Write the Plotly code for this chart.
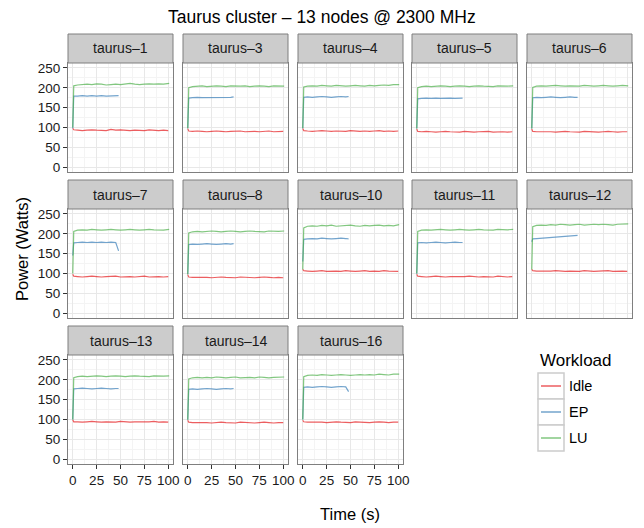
import plotly.graph_objects as go

W, H = 644, 528

NODES = ["taurus-1", "taurus-3", "taurus-4", "taurus-5", "taurus-6",
         "taurus-7", "taurus-8", "taurus-10", "taurus-11", "taurus-12",
         "taurus-13", "taurus-14", "taurus-16"]

T_IDLE = [0, 1, 5, 10, 15, 20, 25, 30, 35, 40, 45, 50, 55, 60, 65, 70, 75, 80, 85, 90, 95, 100]
T_LU = [0, 1, 5, 10, 15, 20, 25, 30, 35, 40, 45, 50, 55, 60, 65, 70, 75, 80, 85, 90, 95, 101]
T_EP = [0, 1, 5, 10, 15, 20, 25, 30, 35, 40, 45, 48]

IDLE = {
    "taurus-1":  [98, 94, 93, 92, 93, 94, 93, 93, 92, 95, 93, 94, 93, 92, 93, 93, 92, 94, 93, 92, 93, 92],
    "taurus-3":  [97, 91, 90, 91, 90, 89, 90, 91, 90, 89, 90, 90, 91, 89, 90, 90, 89, 90, 91, 89, 90, 90],
    "taurus-4":  [97, 92, 91, 90, 91, 92, 91, 90, 91, 91, 90, 92, 91, 90, 91, 90, 91, 92, 90, 91, 90, 91],
    "taurus-5":  [96, 90, 89, 90, 89, 88, 89, 90, 89, 89, 88, 90, 89, 88, 89, 89, 90, 88, 89, 89, 88, 89],
    "taurus-6":  [96, 90, 89, 89, 90, 89, 88, 89, 90, 89, 89, 88, 90, 89, 89, 88, 89, 90, 89, 88, 89, 89],
    "taurus-7":  [98, 93, 92, 91, 92, 93, 92, 91, 92, 92, 93, 91, 92, 92, 91, 92, 93, 91, 92, 92, 91, 92],
    "taurus-8":  [97, 91, 90, 90, 91, 90, 89, 90, 91, 90, 90, 89, 91, 90, 90, 89, 90, 91, 90, 89, 90, 89],
    "taurus-10": [110, 107, 106, 105, 106, 107, 105, 106, 106, 105, 107, 106, 105, 106, 107, 105, 106, 105, 107, 106, 105, 105],
    "taurus-11": [98, 93, 92, 91, 92, 93, 92, 91, 92, 92, 91, 92, 93, 92, 91, 92, 92, 91, 93, 92, 91, 92],
    "taurus-12": [110, 107, 106, 106, 105, 106, 107, 106, 105, 106, 106, 105, 107, 106, 105, 106, 106, 107, 105, 106, 106, 105],
    "taurus-13": [99, 94, 94, 93, 94, 95, 94, 93, 94, 94, 93, 95, 94, 93, 94, 94, 93, 94, 95, 93, 94, 93],
    "taurus-14": [98, 93, 92, 92, 93, 92, 91, 92, 93, 92, 92, 91, 93, 92, 92, 91, 92, 93, 92, 91, 92, 92],
    "taurus-16": [98, 94, 93, 93, 94, 93, 92, 93, 94, 93, 93, 92, 94, 93, 93, 92, 93, 94, 93, 92, 93, 93],
}

LU = {
    "taurus-1":  [100, 205, 207, 208, 209, 208, 210, 209, 207, 208, 209, 208, 210, 211, 209, 208, 209, 210, 209, 210, 209, 211],
    "taurus-3":  [98, 200, 203, 204, 205, 203, 204, 205, 204, 203, 205, 204, 204, 205, 203, 204, 205, 204, 203, 205, 204, 204],
    "taurus-4":  [98, 202, 204, 205, 204, 206, 205, 204, 206, 205, 204, 205, 206, 205, 204, 206, 205, 206, 207, 206, 208, 208],
    "taurus-5":  [97, 200, 203, 204, 203, 204, 205, 204, 203, 204, 205, 204, 203, 204, 205, 204, 204, 203, 205, 204, 204, 205],
    "taurus-6":  [97, 201, 204, 205, 204, 205, 206, 205, 204, 205, 205, 204, 206, 205, 204, 205, 206, 205, 204, 205, 206, 205],
    "taurus-7":  [100, 206, 209, 210, 209, 211, 210, 209, 210, 211, 210, 209, 210, 211, 210, 209, 210, 211, 210, 210, 209, 211],
    "taurus-8":  [98, 202, 205, 206, 205, 206, 207, 206, 205, 206, 207, 206, 205, 206, 207, 206, 206, 205, 207, 206, 206, 207],
    "taurus-10": [110, 215, 219, 220, 219, 221, 220, 222, 219, 220, 221, 222, 220, 219, 221, 220, 221, 222, 220, 221, 220, 223],
    "taurus-11": [100, 206, 209, 210, 209, 210, 211, 210, 209, 210, 211, 210, 209, 210, 211, 210, 210, 209, 211, 210, 210, 211],
    "taurus-12": [110, 218, 221, 222, 221, 223, 222, 224, 223, 222, 223, 224, 222, 223, 224, 223, 224, 223, 222, 224, 224, 225],
    "taurus-13": [100, 205, 208, 209, 208, 209, 210, 209, 208, 209, 210, 209, 208, 209, 210, 209, 209, 208, 210, 209, 209, 210],
    "taurus-14": [99, 202, 205, 206, 205, 206, 205, 207, 206, 205, 206, 207, 205, 206, 206, 205, 207, 206, 205, 206, 206, 207],
    "taurus-16": [100, 208, 211, 212, 211, 213, 212, 211, 212, 213, 212, 211, 212, 213, 212, 213, 212, 214, 213, 212, 214, 214],
}

EP = {
    "taurus-1":  [98, 179, 179, 180, 179, 180, 179, 180, 179, 180, 180, 180],
    "taurus-3":  [98, 174, 175, 176, 175, 175, 176, 175, 176, 175, 176, 177],
    "taurus-4":  [98, 176, 177, 176, 177, 178, 177, 176, 177, 178, 177, 178],
    "taurus-5":  [97, 172, 173, 174, 173, 174, 173, 174, 174, 173, 174, 174],
    "taurus-6":  [97, 175, 176, 175, 176, 177, 176, 175, 176, 177, 176, 176],
    "taurus-7":  [145, 177, 178, 179, 178, 179, 178, 179, 178, 179, 178, 157],
    "taurus-8":  [98, 173, 174, 173, 174, 175, 174, 173, 174, 175, 174, 175],
    "taurus-10": [130, 186, 187, 188, 187, 189, 188, 187, 188, 189, 188, 187],
    "taurus-11": [99, 177, 178, 177, 178, 179, 178, 177, 178, 179, 178, 178],
    "taurus-12": [180, 187, 188, 189, 190, 191, 192, 193, 193, 194, 195, 196],
    "taurus-13": [100, 177, 178, 179, 178, 177, 178, 179, 178, 177, 178, 178],
    "taurus-14": [99, 176, 177, 176, 177, 178, 177, 176, 177, 178, 177, 178],
    "taurus-16": [100, 181, 182, 181, 182, 183, 182, 181, 182, 183, 182, 170],
}

WORKLOADS = ["Idle", "EP", "LU"]
COLORS = {"Idle": "rgba(228,26,28,0.7)", "EP": "rgba(55,126,184,0.7)", "LU": "rgba(77,175,74,0.7)"}

X_TICKS = [0, 25, 50, 75, 100]
Y_TICKS = [0, 50, 100, 150, 200, 250]

FONT = "Liberation Sans, Arial, sans-serif"
TXT = "#1a1a1a"

# panel geometry in pixels
COL_X = [(68, 173), (183, 288), (298, 403), (412, 517), (527, 632)]
ROW_Y = [(63, 172), (209, 318), (355, 464)]
STRIP_H = 29


def fx(px):
    return px / W


def fy(py):
    return 1 - py / H


fig = go.Figure()
layout = dict(width=W, height=H, margin=dict(l=0, r=0, t=0, b=0, autoexpand=False),
              template="none",
              paper_bgcolor="white", plot_bgcolor="white", showlegend=False,
              font=dict(family=FONT, color=TXT))
shapes = []
annotations = []

for i, node in enumerate(NODES):
    r, c = divmod(i, 5)
    n = i + 1
    xa = "x" if n == 1 else f"x{n}"
    ya = "y" if n == 1 else f"y{n}"
    for wl, tt, vv in (("Idle", T_IDLE, IDLE[node]), ("EP", T_EP, EP[node]), ("LU", T_LU, LU[node])):
        fig.add_trace(go.Scatter(x=tt, y=vv, mode="lines", name=wl, xaxis=xa, yaxis=ya,
                                 line=dict(color=COLORS[wl], width=1.2), showlegend=False))
    x0, x1 = COL_X[c]
    y0, y1 = ROW_Y[r]
    show_x = r == 2
    show_y = c == 0
    layout["xaxis" if n == 1 else f"xaxis{n}"] = dict(
        domain=[fx(x0), fx(x1)], anchor=ya, range=[-5, 105], automargin=False,
        tickvals=X_TICKS, ticktext=[str(v) for v in X_TICKS],
        showticklabels=show_x, ticks="outside" if show_x else "", ticklen=4,
        tickcolor="#333333", tickfont=dict(size=13.5, color=TXT),
        showgrid=True, gridcolor="#e8e8e8", gridwidth=1,
        minor=dict(dtick=12.5, tick0=0, showgrid=True, gridcolor="#f4f4f4", gridwidth=1, ticks=""),
        showline=True, mirror=True, linecolor="#7f7f7f", linewidth=1, zeroline=False,
        fixedrange=True)
    layout["yaxis" if n == 1 else f"yaxis{n}"] = dict(
        domain=[fy(y1), fy(y0)], anchor=xa, range=[-12.5, 262.5], automargin=False,
        tickvals=Y_TICKS, ticktext=[str(v) for v in Y_TICKS],
        showticklabels=show_y, ticks="outside" if show_y else "", ticklen=4,
        tickcolor="#333333", tickfont=dict(size=13.5, color=TXT),
        showgrid=True, gridcolor="#e8e8e8", gridwidth=1,
        minor=dict(dtick=25, tick0=0, showgrid=True, gridcolor="#f4f4f4", gridwidth=1, ticks=""),
        showline=True, mirror=True, linecolor="#7f7f7f", linewidth=1, zeroline=False,
        fixedrange=True)
    # strip
    shapes.append(dict(type="rect", xref="paper", yref="paper",
                       x0=fx(x0), x1=fx(x1), y0=fy(y0), y1=fy(y0 - STRIP_H),
                       fillcolor="#cccccc", line=dict(color="#7f7f7f", width=1), layer="above"))
    annotations.append(dict(xref="paper", yref="paper", x=fx((x0 + x1) / 2),
                            y=fy(y0 - STRIP_H / 2), text=node.replace("-", "\u2013"),
                            showarrow=False, xanchor="center", yanchor="middle",
                            font=dict(size=14, color=TXT)))

# titles
annotations.append(dict(xref="paper", yref="paper", x=fx(322), y=fy(17),
                        text="Taurus cluster \u2013 13 nodes @ 2300 MHz", showarrow=False,
                        xanchor="center", yanchor="middle", font=dict(size=17.5, color="black")))
annotations.append(dict(xref="paper", yref="paper", x=fx(350), y=fy(514), text="Time (s)",
                        showarrow=False, xanchor="center", yanchor="middle",
                        font=dict(size=16.5, color="black")))
annotations.append(dict(xref="paper", yref="paper", x=fx(22), y=fy(249), text="Power (Watts)",
                        showarrow=False, xanchor="center", yanchor="middle", textangle=-90,
                        font=dict(size=16.5, color="black")))

# legend
annotations.append(dict(xref="paper", yref="paper", x=fx(538), y=fy(360), text="Workload",
                        showarrow=False, xanchor="left", yanchor="middle",
                        font=dict(size=17, color="black")))
KEY_TOP = 373
KEY_H = 26
for k, wl in enumerate(WORKLOADS):
    ky0 = KEY_TOP + k * KEY_H
    shapes.append(dict(type="rect", xref="paper", yref="paper", x0=fx(538), x1=fx(564),
                       y0=fy(ky0 + KEY_H), y1=fy(ky0), fillcolor="white",
                       line=dict(color="#cccccc", width=1.5)))
    shapes.append(dict(type="line", xref="paper", yref="paper", x0=fx(541), x1=fx(561),
                       y0=fy(ky0 + KEY_H / 2), y1=fy(ky0 + KEY_H / 2),
                       line=dict(color=COLORS[wl], width=1.5)))
    annotations.append(dict(xref="paper", yref="paper", x=fx(567), y=fy(ky0 + KEY_H / 2),
                            text=wl, showarrow=False, xanchor="left", yanchor="middle",
                            font=dict(size=14.5, color="black")))

layout["shapes"] = shapes
layout["annotations"] = annotations
fig.update_layout(**layout)
fig.write_html("out.html", config={"displayModeBar": False},
               post_script="document.body.style.margin='0';document.body.style.overflow='hidden';")
